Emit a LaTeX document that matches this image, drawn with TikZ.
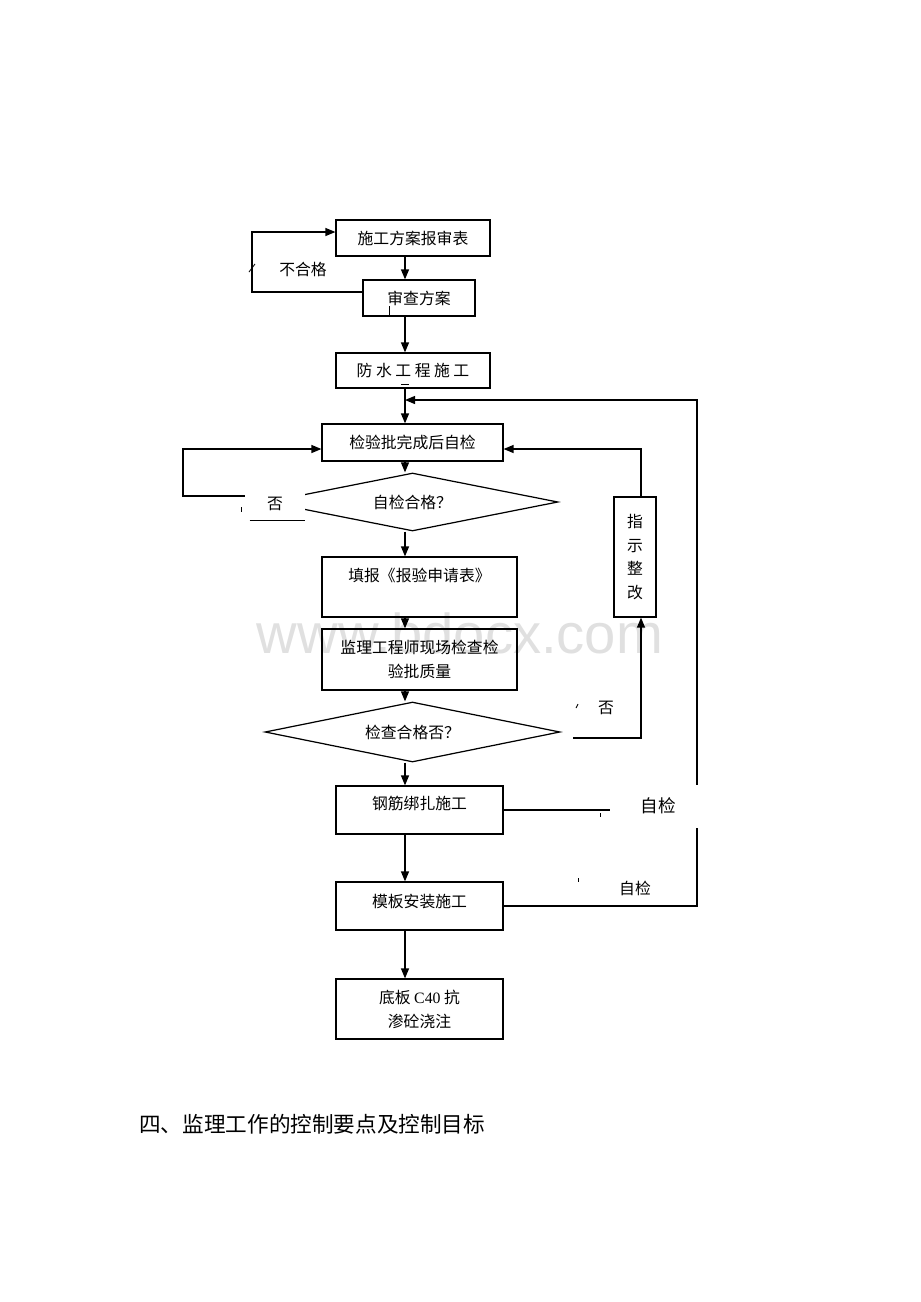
\documentclass[tikz,border=0pt]{standalone}
\usepackage{fontspec}
\setmainfont{Liberation Serif}
\newfontfamily\cjk{Noto Sans CJK SC}
\newfontfamily\wmfont{Liberation Sans}
\usetikzlibrary{arrows.meta,shapes.geometric}

\begin{document}
\begin{tikzpicture}[x=0.02cm, y=-0.02cm,
    box/.style={draw, line width=0.7pt, inner sep=0pt, align=center,
      font=\cjk\fontsize{9}{13.6}\selectfont},
    decision/.style={draw, diamond, shape aspect=5, inner sep=0pt, line width=0.7pt,
      font=\cjk\fontsize{9}{13.6}\selectfont},
    lbl/.style={inner sep=0pt, font=\cjk\fontsize{9}{13.6}\selectfont},
    arr/.style={-{Triangle[length=2mm,width=1.6mm]}, line width=0.7pt},
    tick/.style={line width=0.5pt}]
    \useasboundingbox (0,0) rectangle (920,1302);

    % Draw the watermark behind everything
    \node[text=black!12, font=\wmfont\fontsize{32}{32}\selectfont] (wm) at (460,633) {www.bdocx.com};

    % Draw the boxes of the main chain
    \node[box, minimum width=3.08cm, minimum height=0.72cm] (plan) at (413,238) {施工方案报审表};
    \node[box, minimum width=2.24cm, minimum height=0.72cm] (review) at (419,298) {审查方案};
    \node[box, minimum width=3.08cm, minimum height=0.70cm] (work) at (413,370.5) {防 水 工 程 施 工};
    \node[box, minimum width=3.62cm, minimum height=0.74cm] (selfchk) at (412.5,442.5) {检验批完成后自检};
    \node[decision, minimum width=5.82cm, minimum height=1.16cm] (selfok) at (412.5,502) {自检合格？};
    \node[box, minimum width=3.90cm, minimum height=1.20cm] (apply) at (419.5,587) {填报《报验申请表》\\ \mbox{}};
    \node[box, minimum width=3.90cm, minimum height=1.22cm] (inspect) at (419.5,659.5) {监理工程师现场检查检\\验批质量};
    \node[decision, minimum width=5.90cm, minimum height=1.20cm] (passok) at (412.5,732) {检查合格否？};
    \node[box, minimum width=3.34cm, minimum height=0.96cm, text depth=0.3cm] (rebar) at (419.5,810) {钢筋绑扎施工};
    \node[box, minimum width=3.34cm, minimum height=0.96cm, text depth=0.2cm] (form) at (419.5,906) {模板安装施工};
    \node[box, minimum width=3.34cm, minimum height=1.20cm] (pour) at (419.5,1009) {底板 {\rmfamily C40} 抗\\渗砼浇注};

    % Draw the side box for rectification
    \node[box, minimum width=0.84cm, minimum height=2.40cm] (fix) at (635,557) {指\\示\\整\\改};

    % Draw the arrows down the main chain
    \coordinate (axis) at (405,0);
    \foreach \a/\b in {plan/review, review/work, work/selfchk, selfchk/selfok, selfok/apply,
                       apply/inspect, inspect/passok, passok/rebar, rebar/form, form/pour}
      \draw[arr] (\a.south -| axis) -- (\b.north -| axis);

    % Draw the loop back when the plan fails
    \coordinate (fbl) at (252,292);
    \coordinate (fbt) at (252,232);
    \draw[arr] (fbl -| review.west) -- (fbl) -- (fbt) -- (fbt -| plan.west);
    \node[lbl] (fail) at (303,269) {不合格};
    \draw[tick] (249,272) -- (255,264);
    \draw[tick] (389,306) -- (389,316);
    \draw[tick] (401,384) -- (409,384);

    % Draw the loop back when the self check fails
    \coordinate (sl) at (248,496);
    \coordinate (slt) at (183,449);
    \draw[arr] (sl) -| (slt) -- (slt -| selfchk.west);
    \node[lbl, fill=white, minimum width=1.2cm, minimum height=0.64cm] (no1) at (275,504) {否};
    \draw[line width=0.7pt] ([xshift=0.1cm]no1.south west) -- (no1.south east);
    \draw[tick] (241,507) -- (241,512);

    % Draw the path through the rectification box
    \coordinate (rx) at (641,449);
    \coordinate (ry) at (573,738);
    \draw[arr] (ry) -| (fix.south -| rx);
    \draw[arr] (fix.north -| rx) -- (rx) -- (rx -| selfchk.east);
    \node[lbl] (no2) at (606,708) {否};
    \draw[tick] (576,708) -- (578,704);

    % Draw the big loop from the formwork back up
    \coordinate (top) at (697,400);
    \draw[arr] (form.east) -| (top) -- (top -| axis);

    % Label the self checks on the right
    \node[lbl, fill=white, minimum width=1.9cm, minimum height=0.86cm,
          font=\cjk\fontsize{10}{12}\selectfont] (chk1) at (658,806) {自检};
    \draw[line width=0.7pt] (rebar.east) -- (rebar.east -| chk1.west);
    \draw[tick] (600,813) -- (600,817);
    \node[lbl, minimum width=1.92cm, minimum height=0.72cm] (chk2) at (635,888) {自检};
    \draw[line width=1.2pt] (chk2.south west) -- (chk2.south east);
    \draw[tick] (578,878) -- (578,882);

    % Draw the section heading
    \node[anchor=west, inner sep=0pt, font=\cjk\fontsize{12.3}{14}\selectfont] (title) at (139,1124)
      {四、监理工作的控制要点及控制目标};
\end{tikzpicture}
\end{document}
